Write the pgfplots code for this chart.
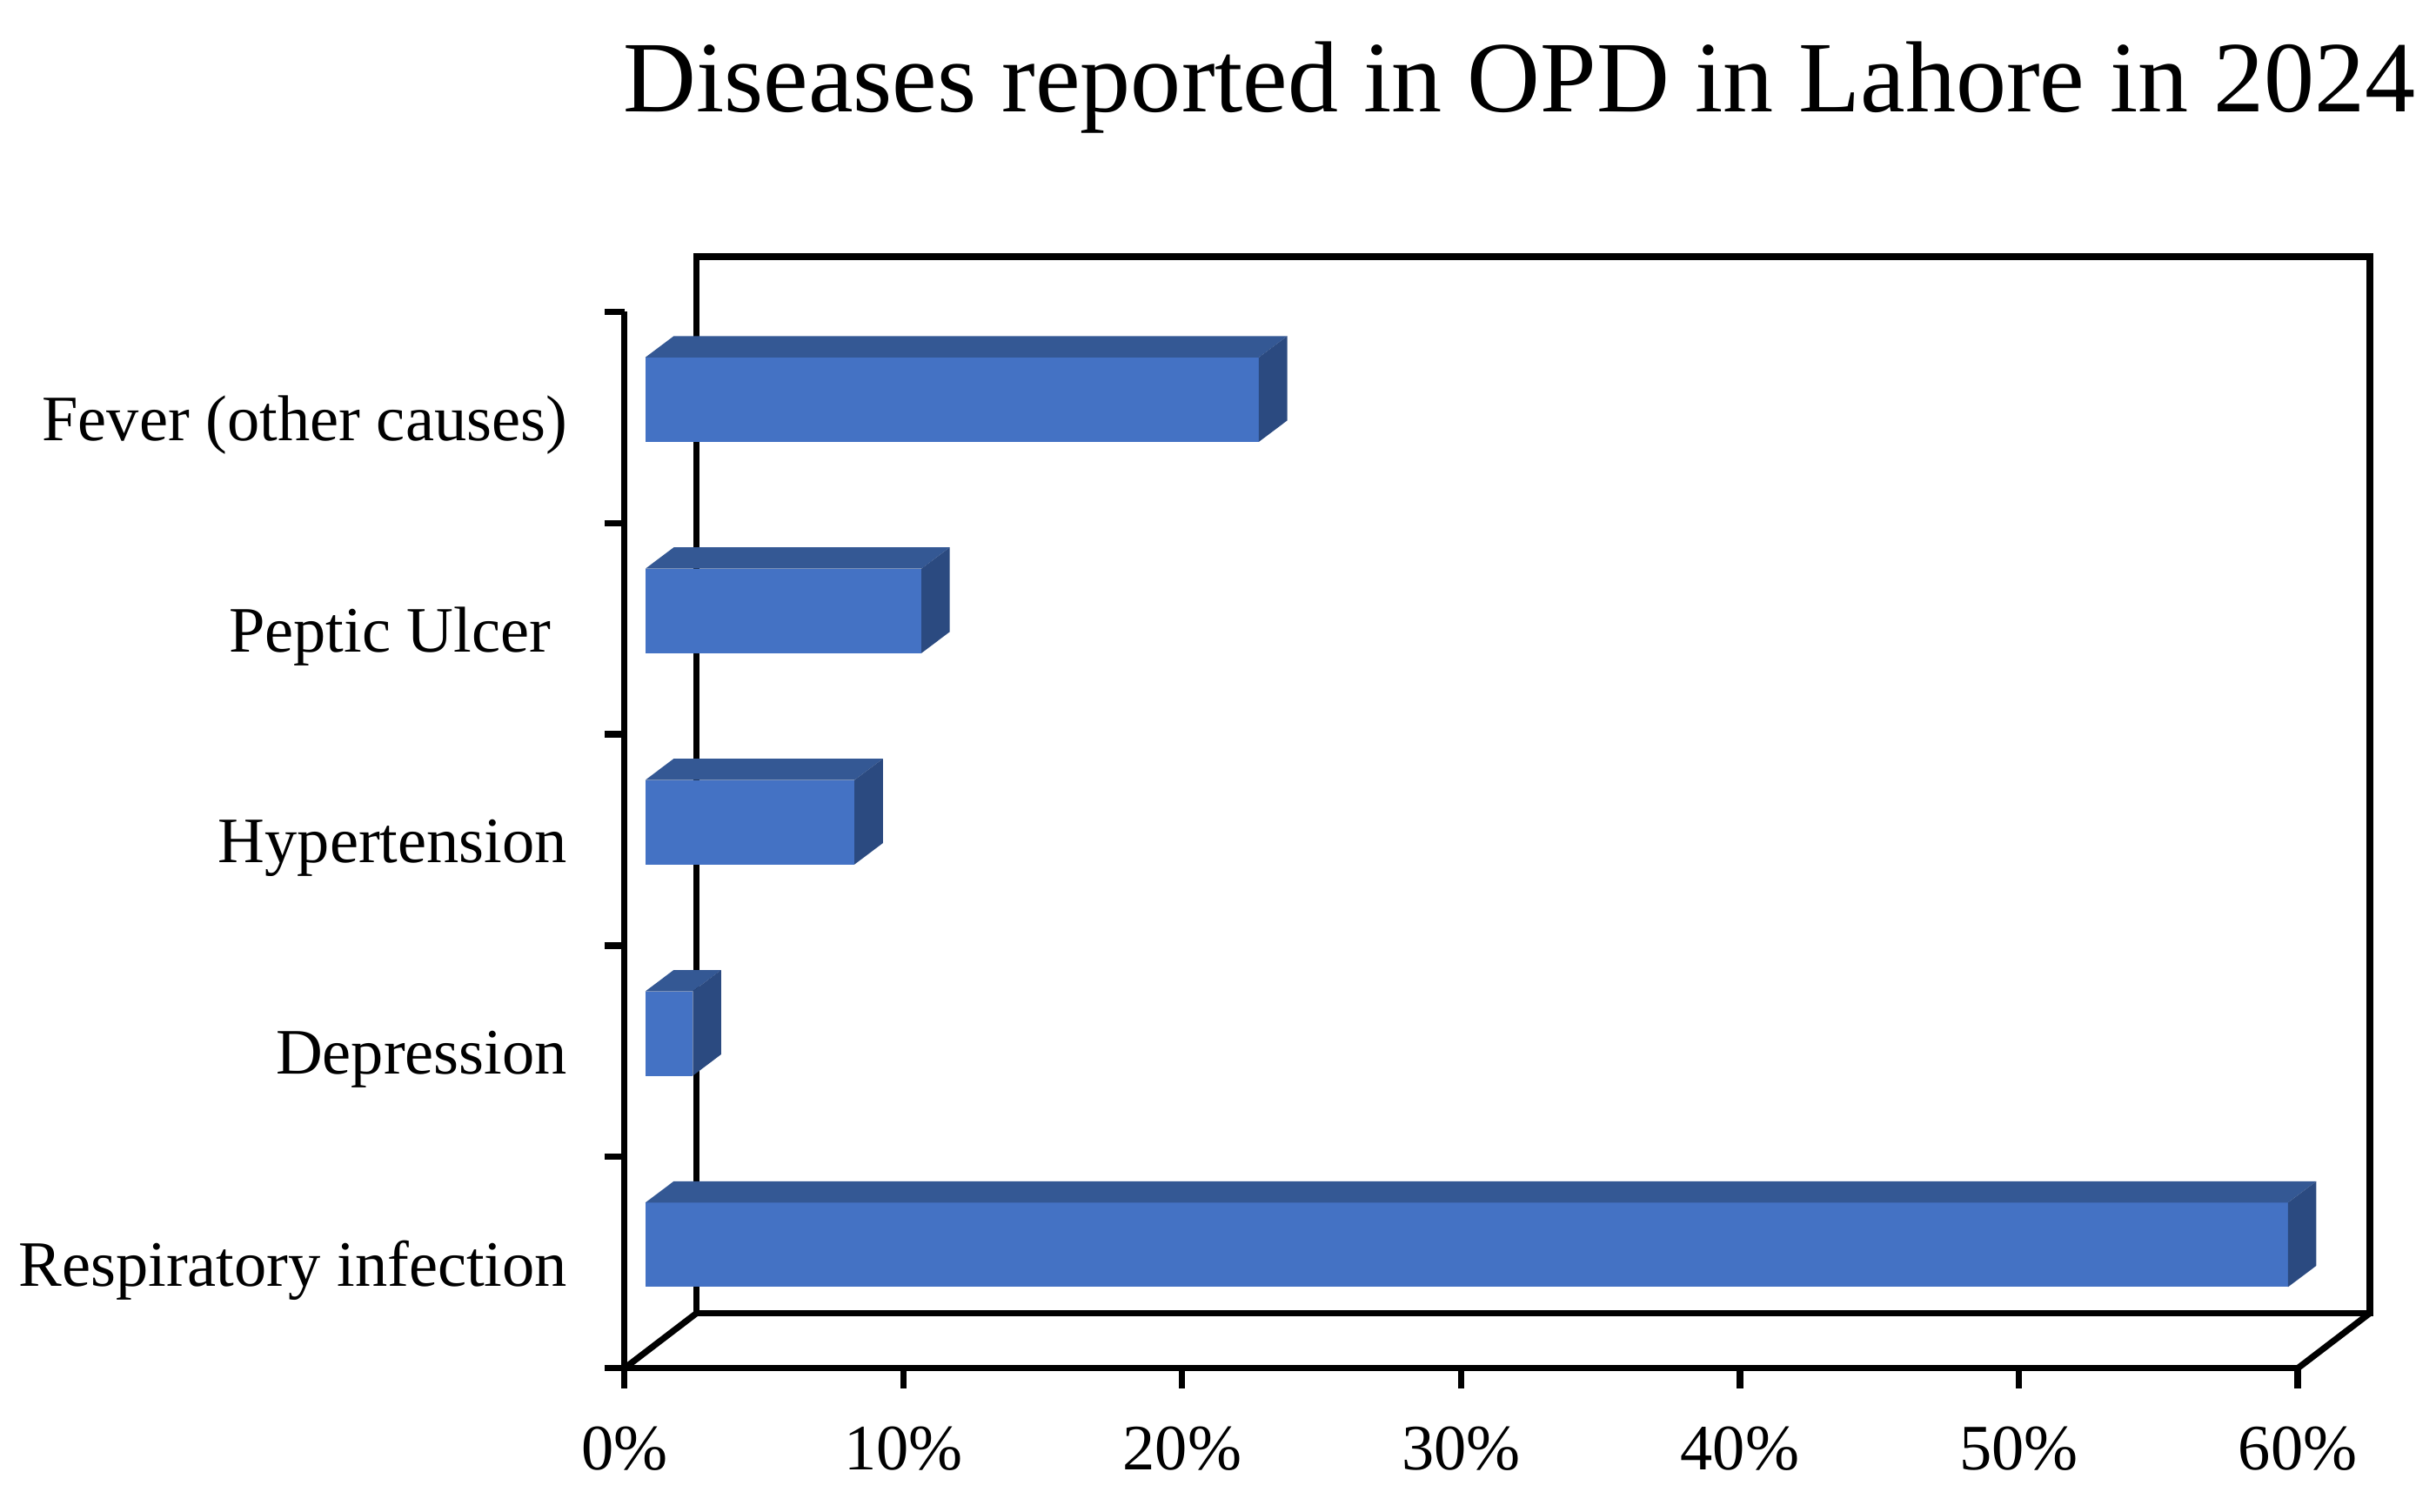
\documentclass[border=0pt]{standalone}
\usepackage{fontspec}
\setmainfont{Liberation Serif}
\usepackage{pgfplots}
\usepackage{pgfplotstable}
\pgfplotsset{compat=1.18}

\definecolor{barfront}{HTML}{4472C4}
\definecolor{bartop}{HTML}{345894}
\definecolor{barside}{HTML}{2B4A80}

% share of OPD cases (%), bottom row of the chart first
\pgfplotstableread{
idx share
0 58.9
1 1.7
2 7.5
3 9.9
4 22.0
}\opddata

\begin{document}
\begin{tikzpicture}
\path[use as bounding box] (-129.2pt,-29.6pt) rectangle (374.8pt,283.1pt);
\begin{axis}[
    at={(0,0)}, anchor=south west,
    scale only axis, width=346.2pt, height=218.6pt,
    xmin=0, xmax=60, ymin=-0.5, ymax=4.5,
    clip=false,
    axis x line*=bottom, axis y line*=left,
    axis line style={line width=1.3pt, -},
    xtick={0,10,...,60},
    xticklabel={\pgfmathprintnumber{\tick}\%},
    ytick={0,...,4},
    yticklabels={Respiratory infection, Depression, Hypertension, Peptic Ulcer\hspace*{3.4pt}, Fever (other causes)},
    minor ytick={-0.5,0.5,...,4.5},
    tick align=outside,
    major tick length=4.1pt, minor tick length=4.1pt,
    tick style={line width=1.3pt, black},
    major y tick style={draw=none},
    ticklabel style={font=\fontsize{13.4}{16}\selectfont},
    xticklabel style={yshift=-4.5pt},
    yticklabel style={xshift=-4.2pt, yshift=-1.6pt},
    /pgf/number format/assume math mode=true,
]
    % back wall and floor
    \draw[line width=1.3pt] (axis cs:2.589,-0.239) -- (axis cs:2.589,4.761)
        -- (axis cs:62.589,4.761) -- (axis cs:62.589,-0.239) -- cycle;
    \draw[line width=1.3pt] (axis cs:0,-0.5) -- (axis cs:2.589,-0.239);
    \draw[line width=1.3pt] (axis cs:60,-0.5) -- (axis cs:62.589,-0.239);

    % 3d bars: front, top and side faces
    \pgfplotsinvokeforeach{0,...,4}{
        \pgfplotstablegetelem{#1}{share}\of\opddata
        \pgfmathsetmacro\xa{0.749}
        \pgfmathsetmacro\xb{0.749+\pgfplotsretval}
        \pgfmathsetmacro\xc{\xa+1.017}
        \pgfmathsetmacro\xd{\xb+1.017}
        \pgfmathsetmacro\ya{#1+0.084-0.1997}
        \pgfmathsetmacro\yb{#1+0.084+0.1997}
        \pgfmathsetmacro\yc{\yb+0.1009}
        \pgfmathsetmacro\yd{\ya+0.1009}
        \addplot[fill=barfront, draw=none] coordinates {(\xa,\ya) (\xb,\ya) (\xb,\yb) (\xa,\yb)};
        \addplot[fill=bartop, draw=none] coordinates {(\xa,\yb) (\xb,\yb) (\xd,\yc) (\xc,\yc)};
        \addplot[fill=barside, draw=none] coordinates {(\xb,\ya) (\xd,\yd) (\xd,\yc) (\xb,\yb)};
    }
\end{axis}
\node[anchor=base, font=\fontsize{20.9}{25}\selectfont] at (185.2pt,259.9pt)
    {Diseases reported in OPD in Lahore in 2024};
\end{tikzpicture}
\end{document}
